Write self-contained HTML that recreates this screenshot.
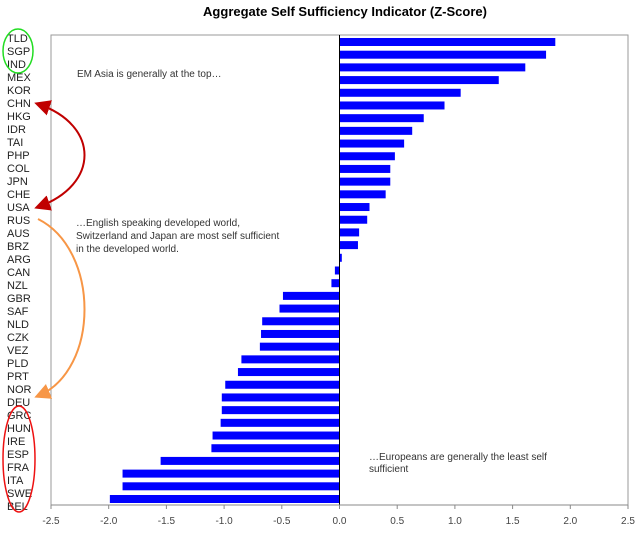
<!DOCTYPE html>
<html><head><meta charset="utf-8"><style>
body{margin:0;background:#fff;}
svg text{font-family:"Liberation Sans",Arial,sans-serif;}
</style></head><body>
<svg width="640" height="533" viewBox="0 0 640 533">
<defs>
<marker id="ar" markerWidth="8" markerHeight="8" refX="6" refY="4" orient="auto"><path d="M0,0 L8,4 L0,8 z" fill="#c00000"/></marker>
<marker id="ars" markerWidth="8" markerHeight="8" refX="2" refY="4" orient="auto"><path d="M8,0 L0,4 L8,8 z" fill="#c00000"/></marker>
<marker id="ao" markerWidth="8" markerHeight="8" refX="6" refY="4" orient="auto"><path d="M0,0 L8,4 L0,8 z" fill="#f79646"/></marker>
</defs>
<text x="345" y="16" text-anchor="middle" font-size="13" font-weight="bold" fill="#000">Aggregate Self Sufficiency Indicator (Z-Score)</text>
<rect x="51" y="35" width="577" height="470" fill="none" stroke="#999"/>
<g id="bars"></g>
<g id="labels"></g>
<g id="ticks"></g>
<text x="77" y="77" font-size="10" fill="#333">EM Asia is generally at the top…</text>
<text font-size="10" fill="#333"><tspan x="76" y="226">…English speaking developed world,</tspan><tspan x="76" y="239">Switzerland and Japan are most self sufficient</tspan><tspan x="76" y="252">in the developed world.</tspan></text>
<text font-size="10" fill="#333"><tspan x="369" y="460">…Europeans are generally the least self</tspan><tspan x="369" y="472">sufficient</tspan></text>
<ellipse cx="18" cy="51" rx="15" ry="22" fill="none" stroke="#22dd22" stroke-width="1.5"/>
<ellipse cx="19" cy="459" rx="16" ry="53" fill="none" stroke="#ee1111" stroke-width="1.5"/>
<path d="M38,207 C100,185 100,125 38,104" fill="none" stroke="#c00000" stroke-width="2" marker-start="url(#ars)" marker-end="url(#ar)"/>
<path d="M38,219 C100,250 100,370 38,396" fill="none" stroke="#f79646" stroke-width="2" marker-end="url(#ao)"/>
<script>
const categories=["TLD","SGP","IND","MEX","KOR","CHN","HKG","IDR","TAI","PHP","COL","JPN","CHE","USA","RUS","AUS","BRZ","ARG","CAN","NZL","GBR","SAF","NLD","CZK","VEZ","PLD","PRT","NOR","DEU","GRC","HUN","IRE","ESP","FRA","ITA","SWE","BEL"];
const values=[1.87,1.79,1.61,1.38,1.05,0.91,0.73,0.63,0.56,0.48,0.44,0.44,0.40,0.26,0.24,0.17,0.16,0.02,-0.04,-0.07,-0.49,-0.52,-0.67,-0.68,-0.69,-0.85,-0.88,-0.99,-1.02,-1.02,-1.03,-1.10,-1.11,-1.55,-1.88,-1.88,-1.99];
const tickValues=[-2.5,-2,-1.5,-1,-0.5,0,0.5,1,1.5,2,2.5];
const tickLabels=["-2.5","-2.0","-1.5","-1.0","-0.5","0.0","0.5","1.0","1.5","2.0","2.5"];
const NS="http://www.w3.org/2000/svg";
const x0=51,x1=628,yTop=35,yBot=505;
function xs(v){return x0+(v+2.5)/5*(x1-x0);}
function ys(i){return 42+i*(499-42)/(categories.length-1);}
function yl(i){return 38+i*13;}
const bars=document.getElementById('bars'),labels=document.getElementById('labels'),ticks=document.getElementById('ticks');
categories.forEach((c,i)=>{
 const v=values[i];const r=document.createElementNS(NS,'rect');
 r.setAttribute('x',Math.min(xs(0),xs(v)));r.setAttribute('y',ys(i)-4);
 r.setAttribute('width',Math.abs(xs(v)-xs(0)));r.setAttribute('height',8);r.setAttribute('fill','#0000ff');
 
 
 bars.appendChild(r);
 const t=document.createElementNS(NS,'text');
 t.setAttribute('x',7);t.setAttribute('y',yl(i)+4);t.setAttribute('font-size','11');t.setAttribute('fill','#222');
 t.textContent=c;
 
 
 labels.appendChild(t);
});
const zl=document.createElementNS(NS,'line');
zl.setAttribute('x1',xs(0));zl.setAttribute('x2',xs(0));zl.setAttribute('y1',yTop);zl.setAttribute('y2',yBot);zl.setAttribute('stroke','#000');


ticks.appendChild(zl);
const ax=document.createElementNS(NS,'line');
ax.setAttribute('x1',x0);ax.setAttribute('x2',x1);ax.setAttribute('y1',yBot);ax.setAttribute('y2',yBot);ax.setAttribute('stroke','#888');


ticks.appendChild(ax);
tickValues.forEach((v,i)=>{
 const l=document.createElementNS(NS,'line');
 l.setAttribute('x1',xs(v));l.setAttribute('x2',xs(v));l.setAttribute('y1',yBot);l.setAttribute('y2',yBot+4);l.setAttribute('stroke','#888');
 
 
 ticks.appendChild(l);
 const t=document.createElementNS(NS,'text');
 t.setAttribute('x',xs(v));t.setAttribute('y',524);t.setAttribute('font-size','10');t.setAttribute('text-anchor','middle');t.setAttribute('fill','#444');
 t.textContent=tickLabels[i];
 
 
 ticks.appendChild(t);
});
</script>
</svg>
</body></html>
